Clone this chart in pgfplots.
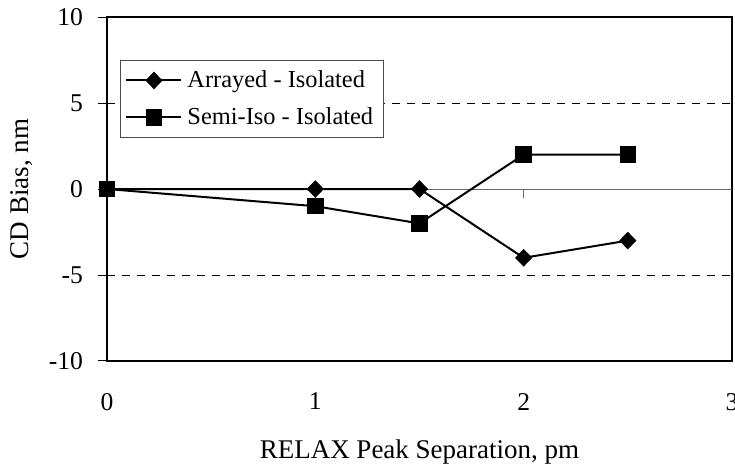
\documentclass[border=0pt]{standalone}
\usepackage{fontspec}
\setmainfont{Liberation Serif}
\usepackage{pgfplots}
\pgfplotsset{compat=1.18}
\begin{document}
\begin{tikzpicture}
\useasboundingbox (-53.5pt,-52.5pt) rectangle (314pt,180.5pt);
\begin{axis}[
  at={(0,0)}, anchor=south west,
  scale only axis,
  width=312.5pt, height=172pt,
  xmin=0, xmax=3, ymin=-10, ymax=10,
  axis line style={line width=1pt},
  xtick={0,1,2,3}, xticklabels={0,1,2,3},
  ytick={-10,-5,0,5,10}, yticklabels={-10,-5,0,5,10},
  x tick style={draw=none},
  y tick style={black, line width=0.5pt},
  ytick pos=left,
  tick align=outside,
  major tick length=4.5pt,
  tick label style={font=\fontsize{12.8}{15}\selectfont},
  xticklabel style={yshift=-8pt},
  yticklabel style={xshift=-4pt},
  label style={font=\fontsize{13.5}{16}\selectfont},
  xlabel={RELAX Peak Separation, pm},
  ylabel={CD Bias, nm},
  xlabel style={at={(axis description cs:0.5,0)}, anchor=center, yshift=-45.5pt},
  ylabel style={at={(axis description cs:0,0.5)}, anchor=center, yshift=42.5pt},
  legend style={at={(axis description cs:0,1)}, anchor=north west, xshift=6.5pt, yshift=-21.5pt,
    draw=black!70, line width=0.5pt, font=\fontsize{12.2}{14}\selectfont,
    inner xsep=2.5pt, inner ysep=4pt, row sep=6.5pt,
    nodes={inner xsep=2.5pt, inner ysep=1pt}},
  legend cell align=left,
  legend image code/.code={\draw[#1, mark repeat=2, mark phase=2] plot coordinates {(0pt,0pt) (13.75pt,0pt) (27.5pt,0pt)};},
  clip=false,
]
\addplot[black!60, line width=0.5pt, forget plot] coordinates {(0,0) (3,0)};
\addplot[black, line width=0.5pt, dash pattern=on 4pt off 3.5pt, forget plot] coordinates {(0,5) (3,5)};
\addplot[black, line width=0.5pt, dash pattern=on 4pt off 3.5pt, forget plot] coordinates {(0,-5) (3,-5)};
\draw[black!60, line width=0.5pt] (axis cs:1,0) -- ([yshift=-4.5pt]axis cs:1,0);
\draw[black!60, line width=0.5pt] (axis cs:2,0) -- ([yshift=-4.5pt]axis cs:2,0);
\addplot[black, line width=1pt, mark=diamond*, mark size=3.7pt, mark options={xscale=1.3, solid}] coordinates {
  (0,0) (1,0) (1.5,0) (2,-4) (2.5,-3)};
\addlegendentry{Arrayed - Isolated}
\addplot[black, line width=1pt, mark=square*, mark size=3.6pt, mark options={solid}] coordinates {
  (0,0) (1,-1) (1.5,-2) (2,2) (2.5,2)};
\addlegendentry{Semi-Iso - Isolated}
\end{axis}
\end{tikzpicture}
\end{document}
